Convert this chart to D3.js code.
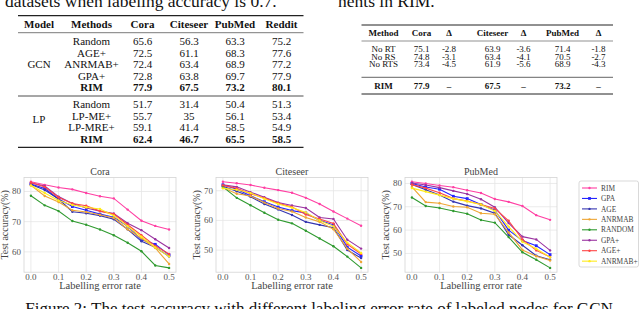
<!DOCTYPE html>
<html lang="en">
<head>
    <meta charset="UTF-8">
    <title>RIM labelling error figure</title>
    <script src="https://d3js.org/d3.v7.min.js"></script>
    <style>
        body { margin: 0; overflow: hidden; background: #fff; font-family: 'Liberation Serif', 'Times New Roman', Times, serif; }
        svg { display: block; }
        text { font-family: 'Liberation Serif', 'Times New Roman', Times, serif; }
        .grid line { stroke: #e6e6e6; stroke-width: 0.8px; }
        .tick-label { font-size: 9px; fill: #555; }
        .rule { stroke: #222; }
    </style>
</head>
<body>
    <svg id="fig"></svg>
    <script>
        // ---- table data ----
        const t1Header = ["Model", "Methods", "Cora", "Citeseer", "PubMed", "Reddit"];
        const t1GCN = [
            ["Random", "65.6", "56.3", "63.3", "75.2"],
            ["AGE+", "72.5", "61.1", "68.3", "77.6"],
            ["ANRMAB+", "72.4", "63.4", "68.9", "77.2"],
            ["GPA+", "72.8", "63.8", "69.7", "77.9"],
            ["RIM", "77.9", "67.5", "73.2", "80.1"]
        ];
        const t1LP = [
            ["Random", "51.7", "31.4", "50.4", "51.3"],
            ["LP-ME+", "55.7", "35", "56.1", "53.4"],
            ["LP-MRE+", "59.1", "41.4", "58.5", "54.9"],
            ["RIM", "62.4", "46.7", "65.5", "58.5"]
        ];
        const t2Header = ["Method", "Cora", "\u0394", "Citeseer", "\u0394", "PubMed", "\u0394"];
        const t2Rows = [
            ["No RT", "75.1", "-2.8", "63.9", "-3.6", "71.4", "-1.8"],
            ["No RS", "74.8", "-3.1", "63.4", "-4.1", "70.5", "-2.7"],
            ["No RTS", "73.4", "-4.5", "61.9", "-5.6", "68.9", "-4.3"]
        ];
        const t2RIM = ["RIM", "77.9", "\u2013", "67.5", "\u2013", "73.2", "\u2013"];

        // ---- chart data ----
        const errorRates = [0, 0.05, 0.1, 0.15, 0.2, 0.25, 0.3, 0.35, 0.4, 0.45, 0.5];
        const methods = ["RIM", "GPA", "AGE", "ANRMAB", "RANDOM", "GPA+", "AGE+", "ANRMAB+"];
        const methodColors = ["#ff3fa3", "#2424ff", "#3535b0", "#eea533", "#2f9a2f", "#9a33a0", "#ff4545", "#ffeb1a"];
        // one row per method, same order as `methods`
        const coraAcc = [
            [83.2, 82.2, 81.3, 80.7, 79.5, 78.4, 77.7, 74.0, 70.3, 68.6, 67.4],
            [82.5, 81.0, 77.5, 75.0, 73.8, 72.5, 71.5, 68.5, 64.0, 62.5, 59.0],
            [82.3, 80.5, 77.5, 73.3, 72.8, 72.0, 70.8, 67.5, 63.5, 61.5, 58.5],
            [82.0, 78.5, 76.5, 73.8, 73.2, 72.3, 71.2, 67.5, 64.5, 61.3, 56.0],
            [78.6, 75.4, 73.5, 70.2, 69.0, 67.4, 65.5, 63.0, 60.2, 55.5, 54.7],
            [82.8, 81.8, 78.3, 76.0, 74.5, 73.5, 72.7, 69.5, 67.2, 64.2, 61.3],
            [83.0, 81.5, 78.0, 76.0, 75.3, 73.5, 72.5, 69.0, 65.5, 62.0, 59.3],
            [82.0, 79.5, 77.0, 75.5, 74.8, 74.2, 72.0, 68.5, 65.0, 61.5, 58.5]
        ];
        const citeseerAcc = [
            [73.0, 72.5, 71.9, 71.0, 70.2, 69.3, 67.6, 65.5, 63.0, 60.6, 58.2],
            [72.0, 70.5, 68.3, 66.3, 64.5, 63.3, 62.5, 60.0, 58.5, 51.0, 48.0],
            [71.5, 69.8, 68.0, 65.5, 63.7, 61.8, 59.5, 58.5, 57.5, 50.0, 47.3],
            [71.0, 69.0, 68.2, 66.0, 64.0, 63.0, 61.0, 59.5, 57.0, 50.5, 46.0],
            [71.3, 67.6, 65.1, 62.6, 60.2, 59.0, 56.5, 53.9, 51.3, 47.8, 44.0],
            [72.0, 71.3, 69.5, 67.8, 66.0, 65.0, 64.2, 61.0, 60.5, 53.5, 50.5],
            [71.8, 70.8, 69.0, 67.5, 65.8, 64.5, 62.0, 60.5, 59.0, 52.0, 48.7],
            [70.8, 70.3, 69.2, 67.3, 65.5, 64.3, 62.7, 60.0, 58.0, 52.5, 49.0]
        ];
        const pubmedAcc = [
            [80.7, 80.0, 79.1, 78.4, 77.1, 75.9, 73.3, 72.1, 70.3, 66.4, 64.4],
            [80.0, 78.5, 77.5, 74.5, 73.5, 71.0, 68.5, 60.0, 55.5, 53.3, 49.5],
            [79.6, 77.3, 75.0, 72.2, 70.5, 69.3, 67.2, 58.0, 53.5, 49.0, 47.3],
            [78.5, 72.0, 71.5, 70.1, 69.8, 67.2, 66.8, 59.0, 51.5, 48.8, 47.0],
            [74.0, 70.3, 69.5, 68.2, 67.0, 64.3, 63.2, 57.0, 50.5, 47.3, 43.8],
            [80.2, 79.3, 78.2, 76.8, 75.5, 73.2, 69.8, 63.0, 57.2, 56.0, 51.3],
            [79.5, 78.0, 76.0, 73.5, 72.5, 71.0, 69.3, 64.0, 56.0, 51.3, 48.5],
            [78.0, 76.5, 75.0, 73.5, 72.3, 71.0, 68.2, 61.5, 55.0, 52.0, 48.3]
        ];
        const xTicks = [0, 0.1, 0.2, 0.3, 0.4, 0.5];
        const coraTicks = [60, 70, 80];
        const citeseerTicks = [50, 60, 70];
        const pubmedTicks = [50, 60, 70, 80];

        const W = 640, H = 309;
        const serif = "'Liberation Serif', 'Times New Roman', Times, serif";
        const svg = d3.select("#fig").attr("width", W).attr("height", H)
            .attr("font-family", serif);
        svg.append("rect").attr("width", W).attr("height", H).attr("fill", "#fff");

        // ---- surrounding paper text ----
        svg.append("text").attr("x", 5).attr("y", 7).attr("font-size", 17.5)
            .attr("fill", "#111").text("datasets when labeling accuracy is 0.7.");
        svg.append("text").attr("x", 338).attr("y", 7).attr("font-size", 17.5)
            .attr("fill", "#111").text("nents in RIM.");
        svg.append("text").attr("x", 319).attr("y", 314).attr("font-size", 17)
            .attr("text-anchor", "middle").attr("fill", "#111")
            .text("Figure 2: The test accuracy with different labeling error rate of labeled nodes for GCN");

        function rule(x1, x2, y, w) {
            svg.append("line").attr("class", "rule")
                .attr("x1", x1).attr("x2", x2).attr("y1", y).attr("y2", y)
                .attr("stroke-width", w);
        }

        function row(cols, cells, y, size, bold) {
            cells.forEach((c, i) => {
                svg.append("text").attr("x", cols[i]).attr("y", y)
                    .attr("text-anchor", "middle").attr("font-size", size)
                    .attr("font-weight", bold ? "bold" : "normal")
                    .attr("fill", "#111").text(c);
            });
        }

        // ---- table 1 ----
        const t1Cols = [39, 91.5, 142.5, 189, 235, 281.5];
        const t1Fs = 11;
        rule(18, 303.5, 15.7, 1.2);
        row(t1Cols, t1Header, 27.5, t1Fs, true);
        rule(18, 303.5, 32.7, 0.6);
        t1GCN.forEach((r, i) => {
            const y = 45 + i * 11.5;
            row(t1Cols.slice(1), r, y, t1Fs, r[0] === "RIM");
        });
        row([t1Cols[0]], ["GCN"], 45 + 2 * 11.5, t1Fs, false);
        rule(18, 303.5, 96, 0.8);
        t1LP.forEach((r, i) => {
            const y = 108 + i * 11.5;
            row(t1Cols.slice(1), r, y, t1Fs, r[0] === "RIM");
        });
        row([t1Cols[0]], ["LP"], 108 + 1.3 * 11.5, t1Fs, false);
        rule(18, 303.5, 147.3, 1.2);

        // ---- table 2 ----
        const t2Cols = [383.5, 421.5, 449, 492.5, 523.5, 562.5, 598.5];
        const t2Fs = 9;
        rule(361.5, 613, 25, 1);
        row(t2Cols, t2Header, 36.3, t2Fs, true);
        rule(361.5, 613, 41, 0.5);
        t2Rows.forEach((r, i) => row(t2Cols, r, 52.3 + i * 7.4, t2Fs, false));
        rule(361.5, 613, 77.3, 0.7);
        row(t2Cols, t2RIM, 89, t2Fs, true);
        rule(361.5, 613, 94, 1);

        // ---- line charts ----
        const plotTop = 177.5, plotBottom = 272.2;
        const charts = [
            { title: "Cora", acc: coraAcc, ticks: coraTicks, x0: 24, x1: 176 },
            { title: "Citeseer", acc: citeseerAcc, ticks: citeseerTicks, x0: 216, x1: 368 },
            { title: "PubMed", acc: pubmedAcc, ticks: pubmedTicks, x0: 405, x1: 557 }
        ];

        charts.forEach(c => {
            const all = c.acc.flat();
            const lo = d3.min(all), hi = d3.max(all), pad = (hi - lo) * 0.05;
            const x = d3.scaleLinear().domain([-0.025, 0.525]).range([c.x0, c.x1]);
            const y = d3.scaleLinear().domain([lo - pad, hi + pad]).range([plotBottom, plotTop]);
            const g = svg.append("g");

            const grid = g.append("g").attr("class", "grid");
            grid.selectAll(".gx").data(xTicks).join("line")
                .attr("x1", d => x(d)).attr("x2", d => x(d))
                .attr("y1", plotTop).attr("y2", plotBottom);
            grid.selectAll(".gy").data(c.ticks).join("line")
                .attr("x1", c.x0).attr("x2", c.x1)
                .attr("y1", d => y(d)).attr("y2", d => y(d));

            g.append("rect").attr("x", c.x0).attr("y", plotTop)
                .attr("width", c.x1 - c.x0).attr("height", plotBottom - plotTop)
                .attr("fill", "none").attr("stroke", "#d4d4d4").attr("stroke-width", 0.8);

            g.selectAll(".xl").data(xTicks).join("text").attr("class", "tick-label")
                .attr("x", d => x(d)).attr("y", plotBottom + 8)
                .attr("text-anchor", "middle").text(d => d.toFixed(1));
            g.selectAll(".yl").data(c.ticks).join("text").attr("class", "tick-label")
                .attr("x", c.x0 - 3).attr("y", d => y(d) + 3)
                .attr("text-anchor", "end").text(d => d);

            g.append("text").attr("x", (c.x0 + c.x1) / 2).attr("y", 175)
                .attr("text-anchor", "middle").attr("font-size", 10).attr("fill", "#444")
                .text(c.title);
            g.append("text").attr("x", (c.x0 + c.x1) / 2).attr("y", 289)
                .attr("text-anchor", "middle").attr("font-size", 10.5).attr("fill", "#444")
                .text("Labelling error rate");
            g.append("text")
                .attr("transform", `translate(${c.x0 - 16},${(plotTop + plotBottom) / 2}) rotate(-90)`)
                .attr("text-anchor", "middle").attr("font-size", 10).attr("fill", "#444")
                .text("Test accuracy(%)");

            const line = d3.line().x((d, i) => x(errorRates[i])).y(d => y(d));
            c.acc.forEach((vals, m) => {
                const col = methodColors[m];
                g.append("path").datum(vals).attr("d", line)
                    .attr("fill", "none").attr("stroke", col).attr("stroke-width", 1.1);
                if (methods[m] === "GPA") {
                    g.selectAll(null).data(vals).join("rect")
                        .attr("x", (d, i) => x(errorRates[i]) - 1.4)
                        .attr("y", d => y(d) - 1.4)
                        .attr("width", 2.8).attr("height", 2.8).attr("fill", col);
                } else {
                    g.selectAll(null).data(vals).join("circle")
                        .attr("cx", (d, i) => x(errorRates[i])).attr("cy", d => y(d))
                        .attr("r", 1.2).attr("fill", col);
                }
            });
        });

        // ---- legend ----
        const lg = svg.append("g");
        lg.append("rect").attr("x", 579).attr("y", 181).attr("width", 59.5).attr("height", 86)
            .attr("rx", 2).attr("fill", "#fff").attr("stroke", "#cfcfcf").attr("stroke-width", 0.8);
        methods.forEach((m, i) => {
            const yy = 188 + i * 10.45;
            lg.append("line").attr("x1", 582).attr("x2", 597).attr("y1", yy).attr("y2", yy)
                .attr("stroke", methodColors[i]).attr("stroke-width", 1.1);
            if (m === "GPA") {
                lg.append("rect").attr("x", 588.1).attr("y", yy - 1.4).attr("width", 2.8).attr("height", 2.8)
                    .attr("fill", methodColors[i]);
            } else {
                lg.append("circle").attr("cx", 589.5).attr("cy", yy).attr("r", 1.2).attr("fill", methodColors[i]);
            }
            lg.append("text").attr("x", 601).attr("y", yy + 2.6).attr("font-size", 7.4)
                .attr("fill", "#444").text(m);
        });
    </script>
</body>
</html>
